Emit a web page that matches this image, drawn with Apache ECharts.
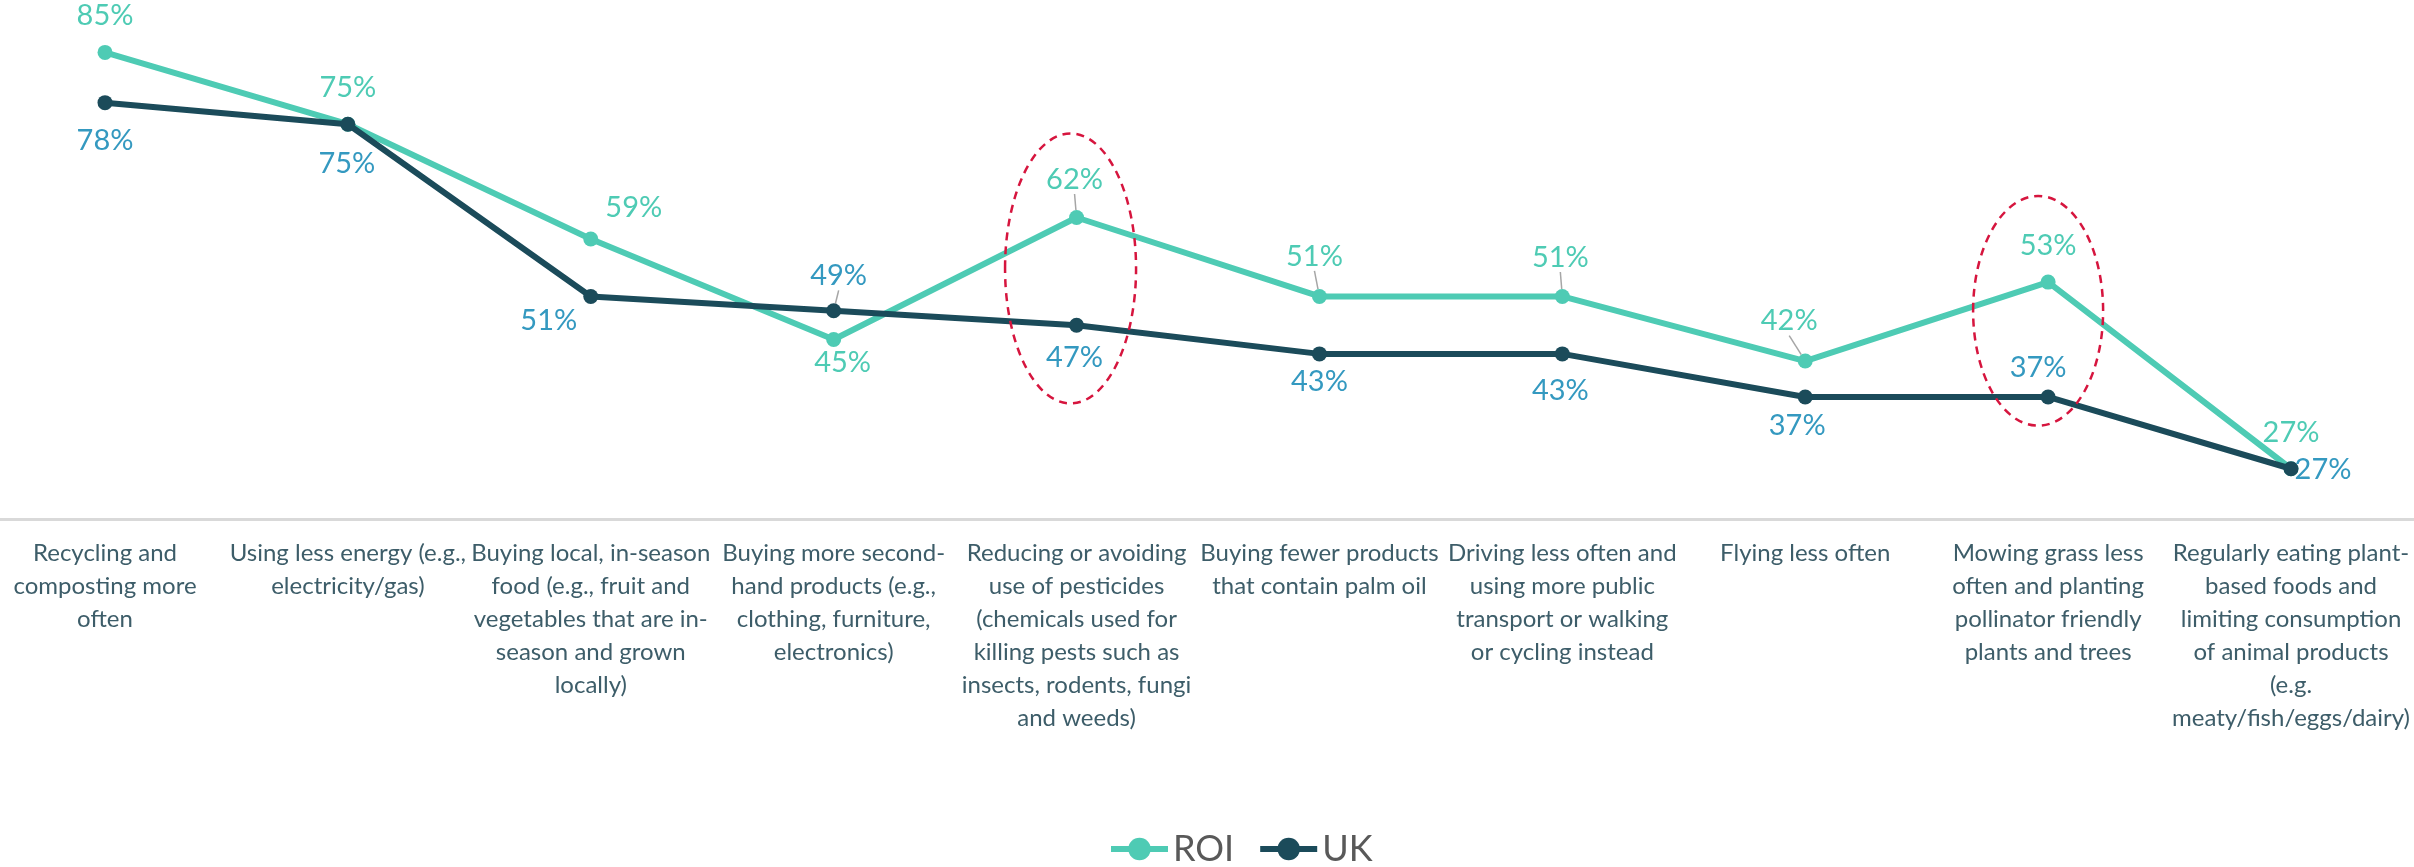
<!DOCTYPE html>
<html>
<head>
<meta charset="utf-8">
<script src="https://cdn.jsdelivr.net/npm/echarts@6/dist/echarts.min.js"></script>
<style>
html,body{margin:0;padding:0;background:#ffffff;}
#chart{width:2414px;height:867px;}
</style>
</head>
<body>
<div id="chart"></div>
<script>
// ---- data ----
const categories = [
  'Recycling and\ncomposting more\noften',
  'Using less energy (e.g.,\nelectricity/gas)',
  'Buying local, in-season\nfood (e.g., fruit and\nvegetables that are in-\nseason and grown\nlocally)',
  'Buying more second-\nhand products (e.g.,\nclothing, furniture,\nelectronics)',
  'Reducing or avoiding\nuse of pesticides\n(chemicals used for\nkilling pests such as\ninsects, rodents, fungi\nand weeds)',
  'Buying fewer products\nthat contain palm oil',
  'Driving less often and\nusing more public\ntransport or walking\nor cycling instead',
  'Flying less often',
  'Mowing grass less\noften and planting\npollinator friendly\nplants and trees',
  'Regularly eating plant-\nbased foods and\nlimiting consumption\nof animal products\n(e.g.\nmeaty/fish/eggs/dairy)'
];
const seriesNames = ['ROI', 'UK'];
const roiValues = [85, 75, 59, 45, 62, 51, 51, 42, 53, 27];
const ukValues  = [78, 75, 51, 49, 47, 43, 43, 37, 37, 27];
const yMin = 20;
const yMax = 90;

// ---- label placement (style only) ----
const roiLabelOffsets = [[0,-37],[0,-37],[43,-31],[9,23],[-2,-38],[-5,-40],[-2,-39],[-16,-40],[0,-36],[0,-36]];
const ukLabelOffsets  = [[0,38],[-1,39],[-42,24],[5,-35],[-2,32],[0,28],[-2,37],[-8,29],[-10,-29],[32,1]];
const roiLeader = [false,false,false,false,true,true,true,true,false,false];
const ukLeader  = [false,false,false,true,false,false,false,false,false,false];

// highlight ellipses (category index, value span, style)
const highlights = [
  {cat: 4, from: 36.1, to: 73.7, dx: -6, rx: 65.5},
  {cat: 8, from: 33.0, to: 65.0, dx: -10, rx: 65}
];

const COL_ROI = '#4ECBB4';
const COL_UK = '#1B4B5A';
const COL_UK_LABEL = '#3499C0';
const FONT = 'Lato, "Open Sans", sans-serif';

const chart = echarts.init(document.getElementById('chart'), null, {renderer: 'canvas'});

function buildData(values, offsets, leaders) {
  return values.map((v, i) => ({
    value: v,
    label: {offset: offsets[i]},
    labelLine: {show: leaders[i]}
  }));
}

chart.setOption({
  animation: false,
  backgroundColor: '#ffffff',
  grid: [
    {left: 105, right: 123, top: 16.5, bottom: 348, containLabel: false},
    {left: 0, right: 0, top: 16.5, bottom: 348, containLabel: false}
  ],
  legend: {
    data: seriesNames,
    left: 1103,
    top: 826,
    itemWidth: 57,
    itemHeight: 28,
    itemGap: 23,
    lineStyle: {width: 6},
    textStyle: {fontSize: 36, color: '#595959', fontFamily: FONT}
  },
  xAxis: [
    {
      type: 'category',
      gridIndex: 0,
      data: categories,
      boundaryGap: false,
      axisLine: {show: false},
      axisTick: {show: false},
      axisLabel: {
        interval: 0,
        fontSize: 24,
        lineHeight: 33,
        color: '#3D5D69',
        fontFamily: FONT,
        margin: 18,
        align: 'center'
      },
      splitLine: {show: false}
    },
    {
      type: 'category',
      gridIndex: 1,
      data: categories,
      boundaryGap: true,
      axisLine: {show: true, lineStyle: {color: '#D9D9D9', width: 3}},
      axisTick: {show: false},
      axisLabel: {show: false},
      splitLine: {show: false}
    }
  ],
  yAxis: [
    {type: 'value', gridIndex: 0, min: yMin, max: yMax, show: false, splitLine: {show: false}},
    {type: 'value', gridIndex: 1, min: yMin, max: yMax, show: false, splitLine: {show: false}}
  ],
  series: [
    {
      name: seriesNames[0],
      type: 'line',
      xAxisIndex: 0,
      yAxisIndex: 0,
      data: buildData(roiValues, roiLabelOffsets, roiLeader),
      symbol: 'circle',
      symbolSize: 15,
      showSymbol: true,
      itemStyle: {color: COL_ROI},
      lineStyle: {color: COL_ROI, width: 6},
      label: {
        show: true,
        position: 'inside',
        formatter: '{c}%',
        fontSize: 29,
        fontFamily: FONT,
        color: COL_ROI
      },
      labelLine: {show: false, lineStyle: {color: '#A6A6A6', width: 1.5}},
      z: 2
    },
    {
      name: seriesNames[1],
      type: 'line',
      xAxisIndex: 0,
      yAxisIndex: 0,
      data: buildData(ukValues, ukLabelOffsets, ukLeader),
      symbol: 'circle',
      symbolSize: 15,
      showSymbol: true,
      itemStyle: {color: COL_UK},
      lineStyle: {color: COL_UK, width: 6},
      label: {
        show: true,
        position: 'inside',
        formatter: '{c}%',
        fontSize: 29,
        fontFamily: FONT,
        color: COL_UK_LABEL
      },
      labelLine: {show: false, lineStyle: {color: '#A6A6A6', width: 1.5}},
      z: 3
    }
  ]
});

const ellipses = highlights.map(h => {
  const top = chart.convertToPixel({xAxisIndex: 0, yAxisIndex: 0}, [h.cat, h.to]);
  const bot = chart.convertToPixel({xAxisIndex: 0, yAxisIndex: 0}, [h.cat, h.from]);
  return {
    type: 'ellipse',
    silent: true,
    z: 10,
    shape: {cx: top[0] + h.dx, cy: (top[1] + bot[1]) / 2, rx: h.rx, ry: (bot[1] - top[1]) / 2},
    style: {fill: null, stroke: '#D6153E', lineWidth: 2.5, lineDash: [8, 6]}
  };
});
chart.setOption({graphic: ellipses});
</script>
</body>
</html>
